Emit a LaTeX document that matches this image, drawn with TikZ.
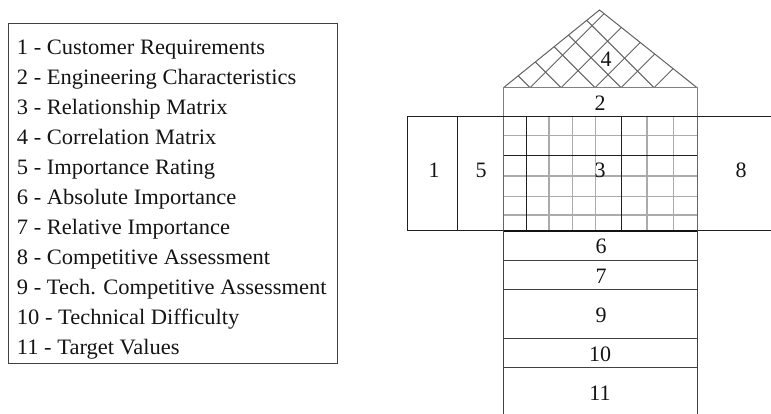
\documentclass[tikz,border=0pt]{standalone}
\usepackage{fontspec}
\setmainfont{Liberation Serif}
\newfontfamily\legfont[FakeStretch=1.023]{Liberation Serif}
\begin{document}
\begin{tikzpicture}[x=1pt,y=-1pt,
  txt/.style={font=\fontsize{22}{26}\selectfont, text=black!92, inner sep=0pt},
  num/.style={txt, anchor=center},
  legline/.style={font=\legfont\fontsize{22}{26}\selectfont, text=black!92, inner sep=0pt, anchor=base west},
  boxshape/.style={draw=black!88, line width=1pt, inner sep=0pt, outer sep=0pt, anchor=north west},
  lightbox/.style={boxshape, draw=black!50},
  gridlight/.style={draw=black!33, line width=1.4pt},
  griddark/.style={draw=black!88, line width=1pt},
  roofline/.style={draw=black!62, line width=1pt},
]
\useasboundingbox (0,0) rectangle (771,413);
\clip (0,0) rectangle (771,413);

% ---------- legend ----------
\node[boxshape, draw=black!75, minimum width=328.7pt, minimum height=340pt] (legend) at (8.3,23.5) {};
\foreach \i/\t in {1/{1 - Customer Requirements},
                   2/{2 - Engineering Characteristics},
                   3/{3 - Relationship Matrix},
                   4/{4 - Correlation Matrix},
                   5/{5 - Importance Rating},
                   6/{6 - Absolute Importance},
                   7/{7 - Relative Importance},
                   8/{8 - Competitive Assessment},
                   9/{9 - Tech. Competitive Assessment},
                   10/{10 - Technical Difficulty},
                   11/{11 - Target Values}}
  \node[legline] (leg\i) at (16.7,{54+30.05*(\i-1)}) {\t};

% ---------- roof (correlation matrix) ----------
\coordinate (apex) at (599.5,10);
\coordinate (rl) at (503.5,87.7);
\coordinate (rr) at (697,87.7);
\begin{scope}
  \clip (rl) -- (apex) -- (rr) -- cycle;
  \foreach \b in {530,561,595,621,654} {
    \draw[roofline] (\b,87.7) -- ++(-110,-110);
    \draw[roofline] (\b,87.7) -- ++(110,-110);
  }
\end{scope}
\draw[roofline] (rl) -- (apex) -- (rr);

% ---------- boxes ----------
\node[lightbox, minimum width=193.5pt, minimum height=28.8pt] (b2) at (503.5,87.7) {};
\node[boxshape, minimum width=50pt, minimum height=114pt] (b1) at (407.3,116.5) {};
\node[boxshape, minimum width=46.2pt, minimum height=114pt] (b5) at (457.3,116.5) {};
\node[boxshape, draw=none, minimum width=193.5pt, minimum height=114pt] (b3) at (503.5,116.5) {};
\node[boxshape, minimum width=90pt, minimum height=114pt] (b8) at (697,116.5) {};

% relationship matrix grid
\foreach \x in {549,572.3,595.7,647,673.3}
  \draw[gridlight] (\x,116.5) -- (\x,230.5);
\foreach \y in {135.7,176,196.7,215}
  \draw[gridlight] (503.5,\y) -- (697,\y);
\foreach \x in {526,621}
  \draw[griddark] (\x,116.5) -- (\x,230.5);
\draw[griddark] (503.5,155.7) -- (697,155.7);
\draw[griddark] (b3.north west) -- (b3.north east);
\draw[griddark, draw=black!60] (b3.north west) -- (b3.south west);
\draw[griddark, draw=black!60] (b3.north east) -- (b3.south east);

% lower boxes
\node[boxshape, draw=black!75, minimum width=193.5pt, minimum height=29.3pt] (b6) at (503.5,230.7) {};
\node[boxshape, draw=black!75, minimum width=193.5pt, minimum height=29pt] (b7) at (503.5,260) {};
\node[boxshape, draw=black!75, minimum width=193.5pt, minimum height=49pt] (b9) at (503.5,289) {};
\node[boxshape, draw=black!75, minimum width=193.5pt, minimum height=29pt] (b10) at (503.5,338) {};
\node[boxshape, draw=black!75, minimum width=193.5pt, minimum height=60pt] (b11) at (503.5,367) {};
\draw[draw=black!92, line width=2pt] (b3.south west) -- (b3.south east);

% ---------- numbers ----------
\node[num] (n1) at (434,170) {1};
\node[num] (n5) at (481,170) {5};
\node[num] (n3) at (600,170) {3};
\node[num] (n8) at (741,170) {8};
\node[num] (n2) at (600,103) {2};
\node[num] (n4) at (606,59) {4};
\node[num] (n6) at (601,246) {6};
\node[num] (n7) at (601,276.5) {7};
\node[num] (n9) at (601,315) {9};
\node[num] (n10) at (600,354) {10};
\node[num] (n11) at (600,393) {11};
\end{tikzpicture}
\end{document}
